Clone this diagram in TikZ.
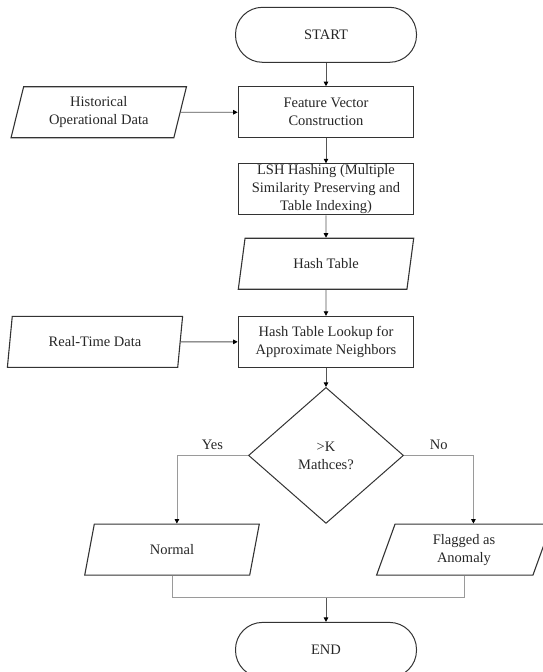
\documentclass[tikz,border=0pt]{standalone}
\usepackage{fontspec}
\setmainfont{Liberation Serif}
\usepackage{xcolor}
\usepackage{tikz}
\usetikzlibrary{positioning,arrows.meta,calc,shapes.geometric}
\definecolor{edgegray}{HTML}{333333}
\definecolor{linegray}{HTML}{555555}
\definecolor{softgray}{HTML}{9A9A9A}

\begin{document}
\begin{tikzpicture}[x=1pt,y=1pt,
  every node/.style={font=\fontsize{14.5}{18}\selectfont,text=black!85,align=center,inner sep=0pt},
  term/.style={draw=edgegray,line width=1pt,rounded corners=27pt,minimum width=181pt,minimum height=55pt},
  proc/.style={draw=edgegray,line width=1.1pt,minimum width=175.5pt,minimum height=51pt},
  io/.style={draw=edgegray,line width=1.1pt,trapezium,trapezium left angle=75,trapezium right angle=105,trapezium stretches=true,minimum width=175.5pt,minimum height=51pt},
  decision/.style={draw=edgegray,line width=1pt,diamond,minimum width=155pt,minimum height=136pt},
  arr/.style={draw=linegray,line width=0.8pt,-{Triangle[length=4.5pt,width=4.5pt,color=black]}}]
\useasboundingbox (0,0) rectangle (542,-672);
\node[term] (start) at (326,-34.8) {START};
\node[proc,below=23.4pt of start] (fv) {Feature Vector\\Construction};
\node[proc,below=25pt of fv] (lsh) {LSH Hashing (Multiple\\Similarity Preserving and\\Table Indexing)};
\node[io,below=22.3pt of lsh] (ht) {Hash Table};
\node[proc,below=26pt of ht] (htl) {Hash Table Lookup for\\Approximate Neighbors};
\node[decision,below=19pt of htl] (dec) {>K\\Mathces?};
\node[io,left=57pt of fv] (hist) {Historical\\Operational Data};
\node[io,left=57pt of htl] (rt) {Real-Time Data};
\node[io] (normal) at ($(dec.south)+(-154,-25.7)$) {Normal};
\node[io] (flag) at ($(dec.south)+(138,-25.7)$) {Flagged as\\Anomaly};
\node[term,below=98pt of dec] (endd) {END};
\coordinate (merge) at ($(endd.north)+(0,24)$);
\draw[arr] (start) -- (fv);
\draw[arr] (fv) -- (lsh);
\draw[arr] (lsh) -- (ht);
\draw[arr] (ht) -- (htl);
\draw[arr] (htl) -- (dec);
\draw[arr] (hist) -- (fv);
\draw[arr] (rt) -- (htl);
\draw[arr,draw=softgray] (dec.west) -| node[pos=0.25,above=5pt] {Yes} (normal.top side);
\draw[arr,draw=softgray] (dec.east) -| node[pos=0.25,above=5pt] {No} (flag.top side);
\draw[softgray,line width=1pt] (normal.south) |- (merge) -| (flag.south);
\draw[arr] (merge) -- (endd);
\end{tikzpicture}
\end{document}
